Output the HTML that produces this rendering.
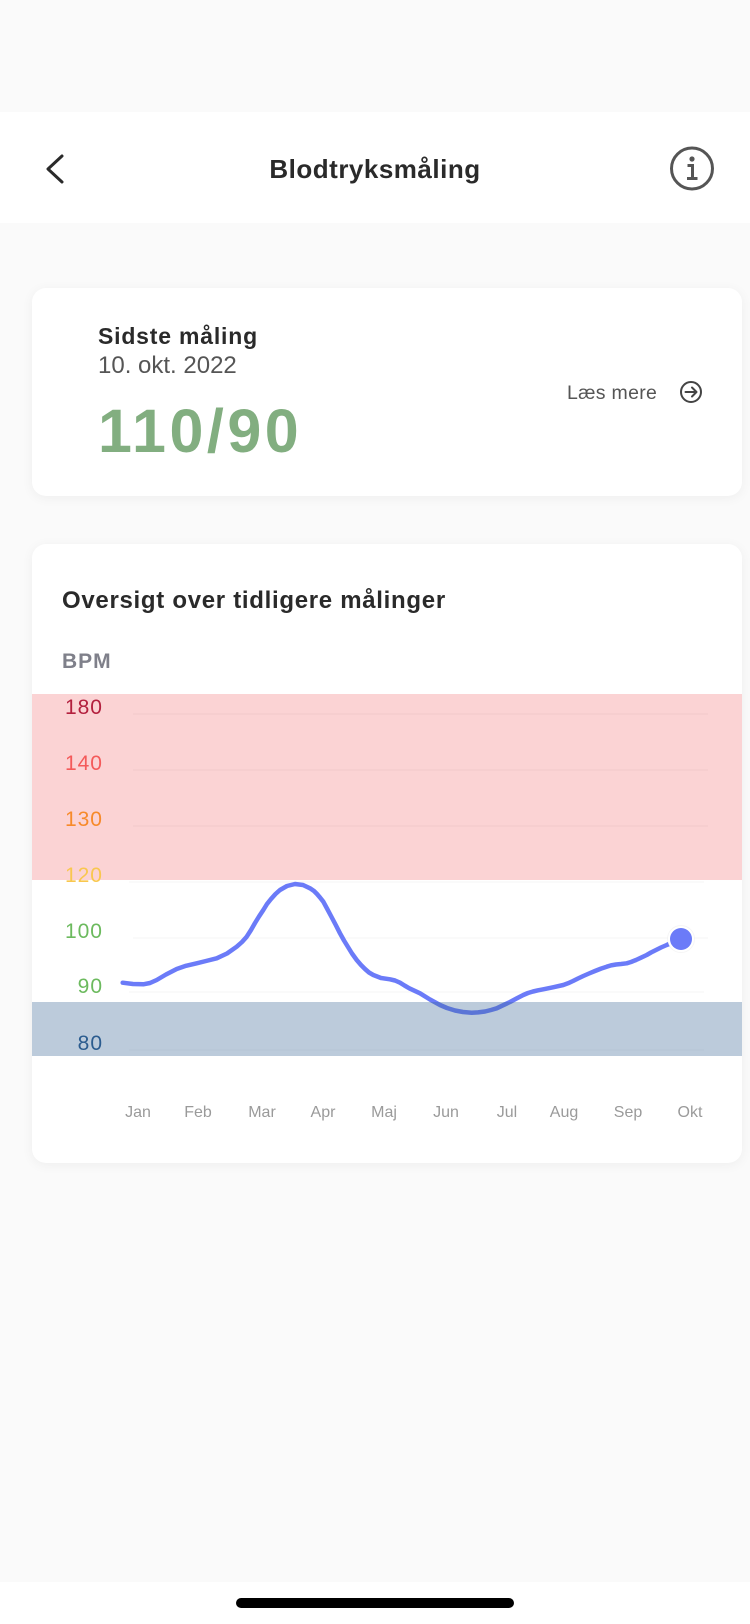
<!DOCTYPE html>
<html>
<head>
<meta charset="utf-8">
<style>
  html,body{margin:0;padding:0;}
  body{width:750px;height:1624px;background:#fafafa;position:relative;overflow:hidden;font-family:"Liberation Sans",sans-serif;}
  .nav{position:absolute;left:0;top:112px;width:750px;height:111px;background:#fff;}
  .card{position:absolute;background:#fff;border-radius:14px;box-shadow:0 2px 12px rgba(0,0,0,0.05);}
  .bottom{position:absolute;left:0;top:1582px;width:750px;height:42px;background:#fff;}
  svg{position:absolute;left:0;top:0;}
</style>
</head>
<body>
<div class="nav"></div>
<div class="card" style="left:32px;top:288px;width:710px;height:208px;"></div>
<div class="card" style="left:32px;top:544px;width:710px;height:619px;"></div>
<div class="bottom"></div>

<svg width="750" height="1624" viewBox="0 0 750 1624" xmlns="http://www.w3.org/2000/svg">
  <!-- nav -->
  <path d="M62,156 L48,169 L62,182" fill="none" stroke="#2a2a2a" stroke-width="3" stroke-linecap="round" stroke-linejoin="round"/>
  <text x="375" y="178" text-anchor="middle" font-family="Liberation Sans, sans-serif" font-weight="bold" font-size="26" fill="#2a2a2a" letter-spacing="0.5">Blodtryksmåling</text>
  <circle cx="692" cy="168.5" r="20.5" fill="none" stroke="#555" stroke-width="3"/>
  <circle cx="692" cy="159" r="2.6" fill="#555"/>
  <path d="M687.5,165.5 H692.5 V178.5 M687,178.5 H697.5" fill="none" stroke="#555" stroke-width="3"/>

  <!-- card 1 -->
  <text x="98" y="344" font-family="Liberation Sans, sans-serif" font-weight="bold" font-size="23" fill="#2a2a2a" letter-spacing="0.8">Sidste måling</text>
  <text x="98" y="373" font-family="Liberation Sans, sans-serif" font-size="24" fill="#555">10. okt. 2022</text>
  <text x="98" y="452" font-family="Liberation Sans, sans-serif" font-weight="bold" font-size="61" fill="#82ae80" letter-spacing="3.5">110/90</text>
  <text x="567" y="399" font-family="Liberation Sans, sans-serif" font-size="19.5" fill="#555" letter-spacing="0.3">Læs mere</text>
  <circle cx="691" cy="392" r="10" fill="none" stroke="#444" stroke-width="2"/>
  <path d="M685.5,392 H696.5 M692,387.5 L696.5,392 L692,396.5" fill="none" stroke="#444" stroke-width="2" stroke-linecap="round" stroke-linejoin="round"/>

  <!-- card 2 -->
  <text x="62" y="608" font-family="Liberation Sans, sans-serif" font-weight="bold" font-size="24" fill="#2a2a2a" letter-spacing="0.7">Oversigt over tidligere målinger</text>
  <text x="62" y="668" font-family="Liberation Sans, sans-serif" font-weight="bold" font-size="21" fill="#7f808a" letter-spacing="1">BPM</text>

  <!-- pink band -->
  <rect x="32" y="694" width="710" height="186" fill="#fbd3d4"/>

  <!-- grid lines -->
  <g stroke="#000" stroke-opacity="0.018" stroke-width="2">
    <line x1="133" y1="714" x2="708" y2="714"/>
    <line x1="133" y1="770" x2="708" y2="770"/>
    <line x1="133" y1="826" x2="708" y2="826"/>
    <line x1="129" y1="882" x2="704" y2="882"/>
    <line x1="133" y1="938" x2="708" y2="938"/>
    <line x1="129" y1="992" x2="704" y2="992"/>
    <line x1="129" y1="1050" x2="704" y2="1050"/>
  </g>

  <!-- series line -->
  <polyline fill="none" stroke="#6b7bf8" stroke-width="4.5" stroke-linecap="round" stroke-linejoin="round"
    points="122.7,982.7 133,984 143.3,984.3 150,983 156.7,980 166,974.5 176.7,969 186,965.8 196.7,963.3 206,961 216.7,958.3 227,953.5 236.7,946.7 242,942 246.7,936.7 251,930 255,923 259,916.5 263.3,910 267,904 271,899 275.5,894 280,890 287,886 295,884 303,885 310,888.3 314,891 317,894 320,897.5 323.3,901.7 327,908.5 331,916 335.5,924.5 340,933.3 344,940.5 348,947 352,953.5 356.7,960 361,965 365,969 369,972.5 373.3,975 381,978 390,979.3 395,980.5 400,982.7 404.5,985.5 409.3,988.3 420,993.3 430,999.5 440,1005 447,1008 455,1010.5 463,1012 471.7,1012.7 478,1012.4 485,1011.5 491,1010 496.7,1008.3 503,1005.3 510,1002 516.5,998.5 523.3,995 528,993 533,991.5 538,990.3 543.3,989.3 553,987.3 563.3,985 568,983.3 573,981 578,978.5 583.3,976 589,973.5 595,971 601,968.6 606.7,966.7 611,965.4 616,964.5 621,964 626.7,963.3 631,962 636,960 641,957.7 646.7,955 651,952.5 656,950 661,947.5 666.7,945 674,942 680.7,939"/>

  <!-- blue band (overlay) -->
  <rect x="32" y="1002" width="710" height="54" fill="rgb(64,106,152)" fill-opacity="0.35"/>

  <!-- endpoint dot -->
  <circle cx="681" cy="939" r="13.5" fill="#fff" stroke="#000" stroke-opacity="0.04" stroke-width="1"/>
  <circle cx="681" cy="939" r="11" fill="#6b7bf8"/>

  <!-- y labels -->
  <g font-family="Liberation Sans, sans-serif" font-size="21" text-anchor="end" letter-spacing="1">
    <text x="103" y="714" fill="#b3203e">180</text>
    <text x="103" y="770" fill="#f45a5a">140</text>
    <text x="103" y="826" fill="#f78a2a">130</text>
    <text x="103" y="882" fill="#f9c74f">120</text>
    <text x="103" y="938" fill="#6cba5e">100</text>
    <text x="103" y="993" fill="#6cba5e">90</text>
    <text x="103" y="1050" fill="#2b5c8f">80</text>
  </g>

  <!-- x labels -->
  <g font-family="Liberation Sans, sans-serif" font-size="16" fill="#9a9a9a" text-anchor="middle">
    <text x="138" y="1117">Jan</text>
    <text x="198" y="1117">Feb</text>
    <text x="262" y="1117">Mar</text>
    <text x="323" y="1117">Apr</text>
    <text x="384" y="1117">Maj</text>
    <text x="446" y="1117">Jun</text>
    <text x="507" y="1117">Jul</text>
    <text x="564" y="1117">Aug</text>
    <text x="628" y="1117">Sep</text>
    <text x="690" y="1117">Okt</text>
  </g>

  <!-- home indicator -->
  <rect x="236" y="1598" width="278" height="10" rx="5" fill="#000"/>
</svg>
</body>
</html>
